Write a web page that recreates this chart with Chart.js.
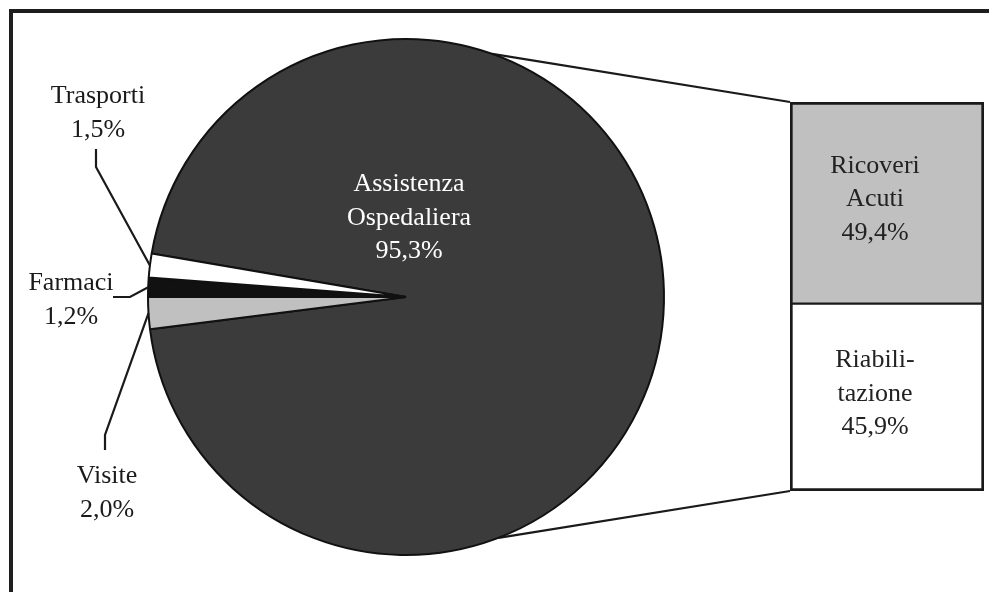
<!DOCTYPE html>
<html>
<head>
<meta charset="utf-8">
<script src="https://cdn.jsdelivr.net/npm/chart.js@4.4.1/dist/chart.umd.min.js"></script>
<style>
  html, body { margin: 0; padding: 0; background: #fff; }
  #wrap { position: relative; width: 989px; height: 592px; overflow: hidden; }
  #frame {
    position: absolute; left: 9px; top: 9px; width: 1000px; height: 600px;
    border-top: 4px solid #1e1e1e; border-left: 4px solid #1e1e1e;
  }
  .layer { position: absolute; left: 0; top: 0; width: 989px; height: 592px; }
</style>
</head>
<body>
<div id="wrap">
  <div id="frame"></div>
  <div class="layer"><canvas id="pieChart"></canvas></div>
  <div class="layer"><canvas id="barChart"></canvas></div>
</div>
<script>
// Pie data
const pieLabels = ["Assistenza Ospedaliera", "Visite", "Farmaci", "Trasporti"];
const pieLines = [["Assistenza", "Ospedaliera"], ["Visite"], ["Farmaci"], ["Trasporti"]];
const pieValues = [95.3, 2.0, 1.2, 1.5];
const pieColors = ["#3b3b3b", "#c0c0c0", "#111111", "#ffffff"];

// Breakdown bar data (bottom to top)
const barLabels = ["Riabilitazione", "Ricoveri Acuti"];
const barLines = [["Riabili-", "tazione"], ["Ricoveri", "Acuti"]];
const barValues = [45.9, 49.4];
const barColors = ["#ffffff", "#c0c0c0"];

const FONT = "26px 'Liberation Serif', 'Times New Roman', serif";
const INK = "#1a1a1a";
const LINE_H = 33.5;

function pct(v) {
  return v.toFixed(1).replace(".", ",") + "%";
}

function drawLines(ctx, lines, x, y, color) {
  ctx.fillStyle = color;
  lines.forEach((t, i) => ctx.fillText(t, x, y + i * LINE_H));
}

// Bar chart (drawn first so the pie can read its corners)
const barChart = new Chart(document.getElementById("barChart"), {
  type: "bar",
  data: {
    labels: [""],
    datasets: barValues.map((v, i) => ({
      label: barLabels[i],
      data: [v],
      backgroundColor: barColors[i],
      borderColor: INK,
      borderWidth: i === 0
        ? { left: 3, right: 3, bottom: 3, top: 1.5 }
        : { left: 3, right: 3, top: 3, bottom: 1.5 },
      borderSkipped: false,
      categoryPercentage: 1,
      barPercentage: 1,
    })),
  },
  options: {
    responsive: true,
    maintainAspectRatio: false,
    animation: false,
    events: [],
    layout: { padding: { left: 790, right: 5, top: 102, bottom: 101 } },
    scales: {
      x: { stacked: true, display: false },
      y: {
        stacked: true,
        display: false,
        min: 0,
        max: barValues.reduce((a, b) => a + b, 0),
      },
    },
    plugins: { legend: { display: false }, tooltip: { enabled: false } },
  },
  plugins: [
    {
      id: "barText",
      afterDatasetsDraw(chart) {
        const ctx = chart.ctx;
        ctx.save();
        ctx.font = FONT;
        ctx.textAlign = "center";
        ctx.textBaseline = "alphabetic";
        chart.data.datasets.forEach((ds, i) => {
          const el = chart.getDatasetMeta(i).data[0];
          const p = el.getProps(["x", "y", "base"], true);
          const cy = (p.y + p.base) / 2;
          drawLines(ctx, barLines[i].concat([pct(barValues[i])]), p.x - 12, cy - 30, "#222");
        });
        ctx.restore();
      },
    },
  ],
});

// callout positions for the small slices (text centre x, first baseline y, leader start)
const callouts = {
  1: { x: 107, y: 483, path: [[105, 450], [105, 435]] },
  2: { x: 71, y: 290, path: [[113, 297], [130, 297]] },
  3: { x: 98, y: 103, path: [[96, 149], [96, 167]] },
};

const total = pieValues.reduce((a, b) => a + b, 0);

new Chart(document.getElementById("pieChart"), {
  type: "pie",
  data: {
    labels: pieLabels,
    datasets: [
      {
        data: pieValues,
        backgroundColor: pieColors,
        borderColor: "#111",
        borderWidth: 2,
      },
    ],
  },
  options: {
    responsive: true,
    maintainAspectRatio: false,
    animation: false,
    events: [],
    rotation: 270 - ((pieValues[0] + pieValues[1]) / total) * 360,
    layout: { padding: { left: 147, right: 324, top: 38, bottom: 36 } },
    plugins: { legend: { display: false }, tooltip: { enabled: false } },
  },
  plugins: [
    {
      id: "pieExtras",
      beforeDatasetsDraw(chart) {
        // connectors from the pie to the bar
        const arc = chart.getDatasetMeta(0).data[0];
        const a = arc.getProps(["x", "y", "outerRadius"], true);
        const top = barChart.getDatasetMeta(1).data[0].getProps(["x", "y", "width"], true);
        const bot = barChart.getDatasetMeta(0).data[0].getProps(["x", "base", "width"], true);
        const ctx = chart.ctx;
        ctx.save();
        ctx.strokeStyle = INK;
        ctx.lineWidth = 2.2;
        const t1 = (-70.5 * Math.PI) / 180;
        const t2 = (69 * Math.PI) / 180;
        ctx.beginPath();
        ctx.moveTo(a.x + a.outerRadius * Math.cos(t1), a.y + a.outerRadius * Math.sin(t1));
        ctx.lineTo(top.x - top.width / 2, top.y);
        ctx.moveTo(a.x + a.outerRadius * Math.cos(t2), a.y + a.outerRadius * Math.sin(t2));
        ctx.lineTo(bot.x - bot.width / 2, bot.base);
        ctx.stroke();
        ctx.restore();
      },
      afterDatasetsDraw(chart) {
        const ctx = chart.ctx;
        const arcs = chart.getDatasetMeta(0).data;
        ctx.save();
        ctx.font = FONT;
        ctx.textAlign = "center";
        ctx.textBaseline = "alphabetic";

        // big slice label inside
        const c = arcs[0].getProps(["x", "y"], true);
        drawLines(ctx, pieLines[0].concat([pct(pieValues[0])]), c.x + 3, c.y - 106, "#ffffff");

        // small slices: leader lines + labels outside
        ctx.strokeStyle = INK;
        ctx.lineWidth = 2.2;
        Object.keys(callouts).forEach((k) => {
          const i = Number(k);
          const co = callouts[i];
          const p = arcs[i].getProps(["x", "y", "startAngle", "endAngle", "outerRadius"], true);
          const mid = (p.startAngle + p.endAngle) / 2;
          ctx.beginPath();
          ctx.moveTo(co.path[0][0], co.path[0][1]);
          ctx.lineTo(co.path[1][0], co.path[1][1]);
          ctx.lineTo(p.x + p.outerRadius * Math.cos(mid), p.y + p.outerRadius * Math.sin(mid));
          ctx.stroke();
          drawLines(ctx, pieLines[i].concat([pct(pieValues[i])]), co.x, co.y, INK);
        });
        ctx.restore();
      },
    },
  ],
});
</script>
</body>
</html>
